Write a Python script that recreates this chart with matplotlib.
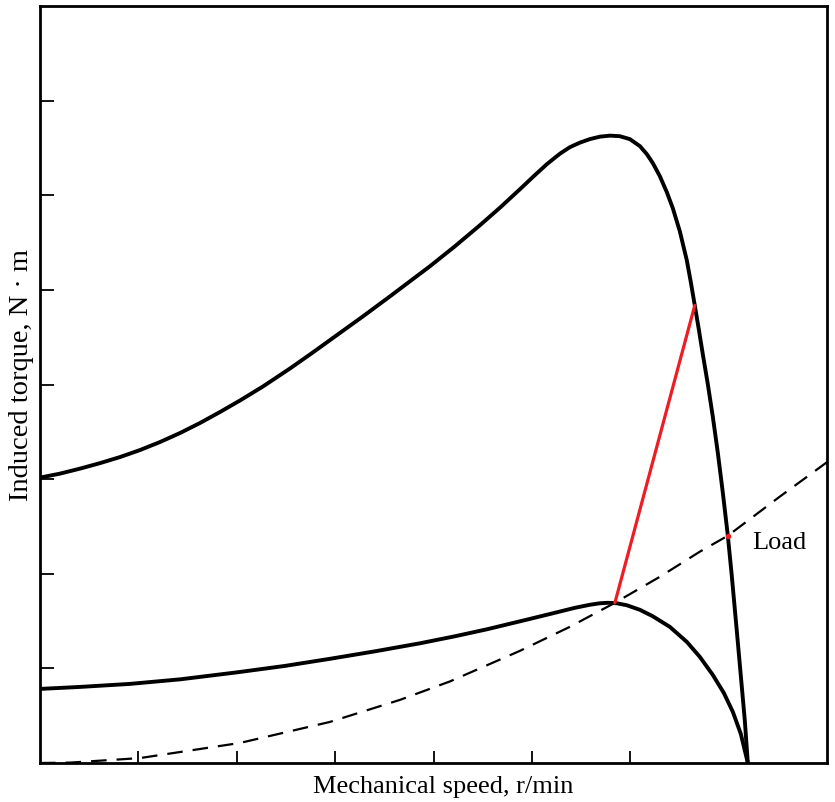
import matplotlib
matplotlib.use('Agg')
from matplotlib import pyplot as plt

plt.rcParams['font.family'] = ['Liberation Serif', 'DejaVu Serif']

# torque-speed curve, full voltage
speed_hi = [0.000, 0.203, 0.407, 0.610, 0.813, 1.016, 1.220, 1.423, 1.626, 1.829,
            2.033, 2.266, 2.541, 2.774, 3.049, 3.283, 3.557, 3.760, 3.963, 4.217,
            4.472, 4.675, 4.878, 5.030, 5.152, 5.285, 5.386, 5.488, 5.589, 5.691,
            5.793, 5.894, 5.996, 6.098, 6.169, 6.230, 6.301, 6.372, 6.433, 6.504,
            6.575, 6.616, 6.656, 6.697, 6.738, 6.789, 6.839, 6.890, 6.941, 6.992,
            7.033, 7.083, 7.124, 7.165, 7.195]
torque_hi = [3.016, 3.058, 3.111, 3.169, 3.233, 3.307, 3.392, 3.487, 3.593, 3.709,
             3.831, 3.979, 4.169, 4.339, 4.545, 4.720, 4.931, 5.090, 5.249, 5.460,
             5.683, 5.868, 6.063, 6.212, 6.328, 6.439, 6.508, 6.556, 6.593, 6.619,
             6.630, 6.624, 6.593, 6.519, 6.434, 6.339, 6.201, 6.032, 5.862, 5.619,
             5.312, 5.079, 4.836, 4.582, 4.317, 4.000, 3.661, 3.280, 2.857, 2.402,
             1.968, 1.397, 0.921, 0.444, 0.000]

# torque-speed curve, reduced voltage
speed_lo = [0.000, 0.407, 0.915, 1.423, 2.002, 2.490, 2.947, 3.404, 3.862, 4.217,
            4.543, 4.878, 5.213, 5.437, 5.589, 5.691, 5.772, 5.864, 5.965, 6.098,
            6.230, 6.402, 6.575, 6.707, 6.839, 6.951, 7.043, 7.124, 7.195]
torque_lo = [0.783, 0.804, 0.836, 0.884, 0.958, 1.026, 1.101, 1.180, 1.265, 1.339,
             1.413, 1.497, 1.582, 1.640, 1.672, 1.688, 1.693, 1.688, 1.667, 1.619,
             1.550, 1.439, 1.280, 1.122, 0.931, 0.741, 0.540, 0.307, 0.000]

# load torque
speed_load = [0.000, 0.305, 1.016, 2.033, 2.947, 3.659, 4.167, 4.878, 5.386, 5.844,
              6.301, 6.707, 6.992, 7.520, 8.008]
torque_load = [0.000, 0.004, 0.052, 0.212, 0.434, 0.667, 0.862, 1.185, 1.439, 1.693,
               1.968, 2.233, 2.402, 2.815, 3.185]

# jump between the two curves
jump_speed = [5.844, 6.656]
jump_torque = [1.693, 4.836]
op_speed = 6.992
op_torque = 2.402

fig = plt.figure(figsize=(8.35, 8.03), dpi=100)
ax = fig.add_axes([40 / 835, 39 / 803, 787 / 835, 757 / 803])

ax.plot(speed_hi, torque_hi, color='black', lw=2.8, solid_joinstyle='round')
ax.plot(speed_lo, torque_lo, color='black', lw=2.8, solid_joinstyle='round')
ax.plot(speed_load, torque_load, color='black', lw=1.6, dashes=(7, 4.5))
ax.plot(jump_speed, jump_torque, color='#ee1c24', lw=2.3, solid_capstyle='round')
ax.plot([op_speed], [op_torque], 'o', color='#ee1c24', ms=3)

ax.text(7.236, 2.34, 'Load', fontsize=19, ha='left', va='center')

ax.set_xlim(0, 8)
ax.set_ylim(0, 8)
ax.set_xticks([1, 2, 3, 4, 5, 6])
ax.set_yticks([1, 2, 3, 4, 5, 6, 7])
ax.tick_params(axis='x', direction='in', length=9, width=1.3, labelbottom=False)
ax.tick_params(axis='y', direction='in', length=10, width=1.3, labelleft=False)
for s in ax.spines.values():
    s.set_linewidth(2)

fig.text(443 / 835, 10 / 803, 'Mechanical speed, r/min', fontsize=19,
         ha='center', va='baseline')
fig.text(28 / 835, 1 - 375 / 803, 'Induced torque, N · m', fontsize=20.5,
         ha='center', va='baseline', rotation=90, rotation_mode='anchor')

fig.savefig('out.png', dpi=100)
